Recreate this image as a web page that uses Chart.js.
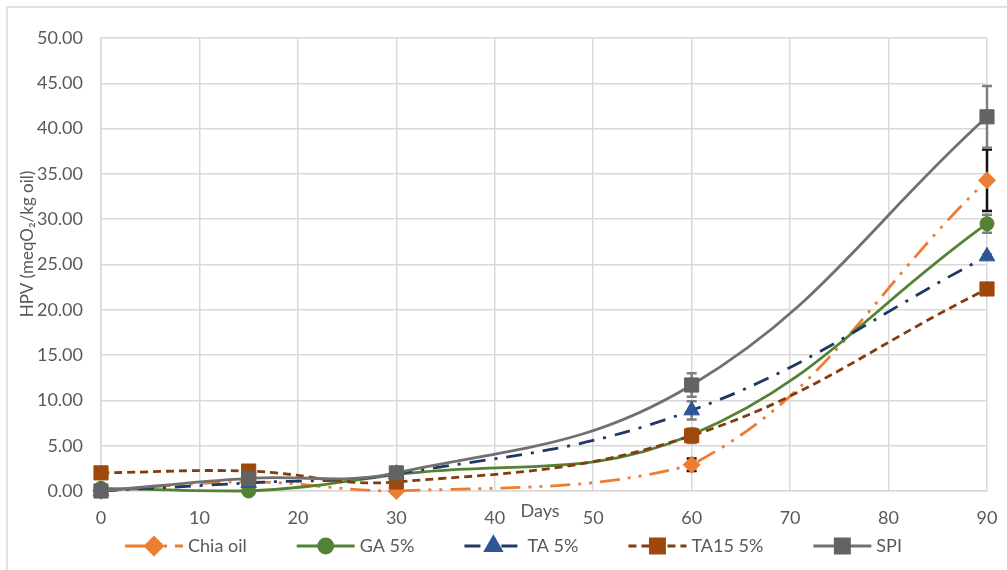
<!DOCTYPE html>
<html>
<head>
<meta charset="utf-8">
<script src="https://cdn.jsdelivr.net/npm/chart.js@4.4.1/dist/chart.umd.min.js"></script>
<style>
  html, body { margin: 0; padding: 0; background: #ffffff; }
  #wrap { width: 1007px; height: 570px; position: relative; }
</style>
</head>
<body>
<div id="wrap"><canvas id="c" width="1007" height="570"></canvas></div>
<script>
// Storage time (days) and hydroperoxide values (meqO2/kg oil)
const days = [0, 15, 30, 60, 90];
const chiaOil = [0.0, 1.0, 0.0, 2.9, 34.3];
const ga5 = [0.3, 0.0, 1.8, 6.2, 29.5];
const ta5 = [0.0, 0.9, 1.9, 8.9, 25.9];
const ta15 = [2.0, 2.2, 1.0, 6.1, 22.3];
const spi = [0.0, 1.4, 2.0, 11.7, 41.3];

// Standard deviations drawn as error bars
const errChia = [0.0, 0.0, 0.0, 0.7, 3.4];
const errGA = [0.0, 0.0, 0.0, 0.5, 1.0];
const errTA = [0.0, 0.0, 0.0, 1.0, 0.2];
const errTA15 = [0.0, 0.0, 0.0, 0.8, 0.2];
const errSPI = [0.0, 0.0, 0.0, 1.3, 3.4];

const seriesNames = ['Chia oil', 'GA 5%', 'TA 5%', 'TA15 5%', 'SPI'];
const yTicks = [0, 5, 10, 15, 20, 25, 30, 35, 40, 45, 50];
const xTicks = [0, 10, 20, 30, 40, 50, 60, 70, 80, 90];
const xTitle = 'Days';
const yTitle = 'HPV (meqO\u2082/kg oil)';

const FONT = 'Lato, "Open Sans", sans-serif';
const TEXT = '#595959';
const GRID = '#D9D9D9';

function pts(ys) { return days.map((d, i) => ({ x: d, y: ys[i] })); }

const datasets = [
  { label: seriesNames[0], data: pts(chiaOil), errors: errChia, errColor: '#111111',
    borderColor: '#ED7D31', backgroundColor: '#ED7D31', borderDash: [20, 8, 3, 8, 3, 8],
    pointStyle: 'rectRot', pointRadius: 8.5, order: 5 },
  { label: seriesNames[1], data: pts(ga5), errors: errGA, errColor: '#7F7F7F',
    borderColor: '#548235', backgroundColor: '#548235', borderDash: [],
    pointStyle: 'circle', pointRadius: 7, order: 4 },
  { label: seriesNames[2], data: pts(ta5), errors: errTA, errColor: '#7F7F7F',
    borderColor: '#203864', backgroundColor: '#2F5597', pointBorderColor: '#2F5597', borderDash: [16, 9, 3, 9],
    pointStyle: 'triangle', pointRadius: 9, order: 3 },
  { label: seriesNames[3], data: pts(ta15), errors: errTA15, errColor: '#7F7F7F',
    borderColor: '#843C0C', backgroundColor: '#9E480E', pointBorderColor: '#9E480E', borderDash: [8, 5],
    pointStyle: 'rect', pointRadius: 10, order: 2 },
  { label: seriesNames[4], data: pts(spi), errors: errSPI, errColor: '#7F7F7F',
    borderColor: '#707070', backgroundColor: '#636363', pointBorderColor: '#636363', borderDash: [],
    pointStyle: 'rect', pointRadius: 10, order: 1 }
].map(ds => Object.assign({
  borderWidth: 2.8, tension: 0.4, pointBorderWidth: 1, pointHoverRadius: ds.pointRadius,
  borderCapStyle: 'butt', clip: false
}, ds));

// Frame, error bars, axis captions and legend
const decorations = {
  id: 'decorations',
  beforeDraw(chart) {
    const ctx = chart.ctx;
    ctx.save();
    ctx.fillStyle = '#ffffff';
    ctx.fillRect(0, 0, chart.width, chart.height);
    ctx.strokeStyle = '#D9D9D9';
    ctx.lineWidth = 1.5;
    ctx.beginPath();
    ctx.moveTo(7, chart.height);
    ctx.lineTo(7, 7);
    ctx.lineTo(chart.width, 7);
    ctx.stroke();
    ctx.restore();
  },
  beforeDatasetsDraw(chart) {
    const ctx = chart.ctx;
    const xs = chart.scales.x, ys = chart.scales.y;
    ctx.save();
    ctx.lineWidth = 2.5;
    chart.data.datasets.forEach(ds => {
      ds.data.forEach((p, i) => {
        const e = ds.errors[i];
        if (!e) return;
        const x = xs.getPixelForValue(p.x);
        const y1 = ys.getPixelForValue(p.y + e);
        const y2 = ys.getPixelForValue(p.y - e);
        ctx.strokeStyle = ds.errColor;
        ctx.beginPath();
        ctx.moveTo(x, y1); ctx.lineTo(x, y2);
        ctx.moveTo(x - 5, y1); ctx.lineTo(x + 5, y1);
        ctx.moveTo(x - 5, y2); ctx.lineTo(x + 5, y2);
        ctx.stroke();
      });
    });
    ctx.restore();
  },
  afterDraw(chart) {
    const ctx = chart.ctx;
    ctx.save();
    ctx.fillStyle = TEXT;
    ctx.font = '18px ' + FONT;
    ctx.textAlign = 'center';
    ctx.textBaseline = 'middle';
    ctx.fillText(xTitle, 540, 511);

    ctx.save();
    ctx.font = '17px ' + FONT;
    ctx.translate(28, 244);
    ctx.rotate(-Math.PI / 2);
    ctx.fillText(yTitle, 0, 0);
    ctx.restore();

    // legend row: line sample with marker, then label
    ctx.font = '18px ' + FONT;
    const sampleW = 58, gapText = 5, gapItem = 50, cy = 546;
    let x = 125;
    ctx.textAlign = 'left';
    chart.data.datasets.forEach(ds => {
      ctx.save();
      ctx.strokeStyle = ds.borderColor;
      ctx.lineWidth = ds.borderWidth;
      ctx.setLineDash(ds.borderDash || []);
      ctx.beginPath();
      ctx.moveTo(x, cy); ctx.lineTo(x + sampleW, cy);
      ctx.stroke();
      ctx.setLineDash([]);
      ctx.fillStyle = ds.backgroundColor;
      ctx.strokeStyle = ds.pointBorderColor || ds.backgroundColor;
      Chart.helpers.drawPoint(ctx, {
        pointStyle: ds.pointStyle, radius: ds.pointRadius, rotation: 0, borderWidth: 1
      }, x + sampleW / 2, cy);
      ctx.restore();
      ctx.fillStyle = TEXT;
      ctx.fillText(ds.label, x + sampleW + gapText, cy);
      x += sampleW + gapText + ctx.measureText(ds.label).width + gapItem;
    });
    ctx.restore();
  }
};

new Chart(document.getElementById('c'), {
  type: 'line',
  data: { datasets },
  options: {
    responsive: false,
    animation: false,
    events: [],
    layout: { padding: { left: 0, right: 20, top: 38, bottom: 0 } },
    plugins: { legend: { display: false }, tooltip: { enabled: false } },
    scales: {
      x: {
        type: 'linear', min: 0, max: 90,
        afterFit(s) { s.height = 79; s.paddingLeft = 0; s.paddingRight = 0; },
        afterBuildTicks(s) { s.ticks = xTicks.map(v => ({ value: v })); },
        grid: { color: GRID, lineWidth: 1.5, drawTicks: false },
        border: { color: GRID, width: 1.5 },
        ticks: { color: TEXT, font: { family: FONT, size: 18 }, padding: 16, maxRotation: 0 }
      },
      y: {
        min: 0, max: 50,
        afterFit(s) { s.width = 101; s.paddingTop = 0; s.paddingBottom = 0; },
        afterBuildTicks(s) { s.ticks = yTicks.map(v => ({ value: v })); },
        grid: { color: GRID, lineWidth: 1.5, drawTicks: false },
        border: { color: GRID, width: 1.5 },
        ticks: { color: TEXT, font: { family: FONT, size: 18 }, padding: 18,
                 callback: v => Number(v).toFixed(2) }
      }
    }
  },
  plugins: [decorations]
});
</script>
</body>
</html>
